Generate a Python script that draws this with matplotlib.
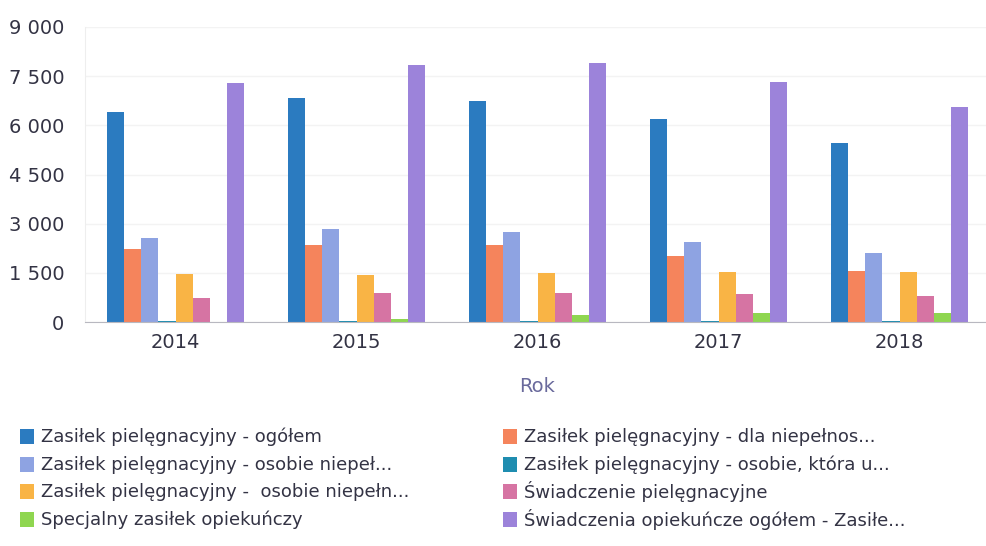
import numpy as np
import matplotlib
matplotlib.use("Agg")
import matplotlib.pyplot as plt
from matplotlib.patches import Rectangle
from matplotlib.ticker import FuncFormatter

# ==============================
# Dane
# ==============================
years = ["2014", "2015", "2016", "2017", "2018"]

series_names = [
    "Zasiłek pielęgnacyjny - ogółem",
    "Zasiłek pielęgnacyjny - dla niepełnos...",
    "Zasiłek pielęgnacyjny - osobie niepeł...",
    "Zasiłek pielęgnacyjny - osobie, która u...",
    "Zasiłek pielęgnacyjny -  osobie niepełn...",
    "Świadczenie pielęgnacyjne",
    "Specjalny zasiłek opiekuńczy",
    "Świadczenia opiekuńcze ogółem - Zasiłe...",
]

ogolem = [6400, 6820, 6730, 6180, 5450]
dla_niepelnos = [2230, 2350, 2350, 2020, 1560]
osobie_niepel = [2570, 2850, 2750, 2450, 2110]
osobie_ktora = [30, 30, 30, 30, 30]
osobie_niepeln = [1470, 1440, 1500, 1530, 1530]
swiadczenie_piel = [740, 880, 880, 860, 800]
specjalny = [0, 90, 210, 270, 270]
swiadczenia_ogolem = [7280, 7830, 7890, 7310, 6550]

values = [ogolem, dla_niepelnos, osobie_niepel, osobie_ktora,
          osobie_niepeln, swiadczenie_piel, specjalny, swiadczenia_ogolem]

colors = ["#2b7bc0", "#f5845c", "#8ea3e2", "#1f8db0",
          "#f9b445", "#d674a3", "#8fd650", "#9c83da"]

# ==============================
# Wykres
# ==============================
W, H = 986, 546
fig = plt.figure(figsize=(W / 100, H / 100), dpi=100)
ax = fig.add_axes([85 / W, 1 - 322 / H, 905 / W, 295 / H])

x = np.arange(len(years))
n = len(values)
bw = 0.095
for i, (vals, c) in enumerate(zip(values, colors)):
    ax.bar(x + (i - (n - 1) / 2) * bw, vals, width=bw, color=c, zorder=2)

ax.set_xlim(-0.5, 4.5)
ax.set_ylim(0, 9000)
ax.set_yticks(np.arange(0, 9001, 1500))
ax.yaxis.set_major_formatter(FuncFormatter(lambda v, p: f"{int(v):,}".replace(",", " ")))
ax.set_xticks(x)
ax.set_xticklabels(years)
ax.tick_params(axis="both", length=0, labelsize=14, colors="#333344")
ax.tick_params(axis="y", pad=15)
ax.tick_params(axis="x", pad=8)

ax.grid(axis="y", color="#f3f3f3", linewidth=1, zorder=0)
for s in ["top", "right"]:
    ax.spines[s].set_visible(False)
ax.spines["left"].set_color("#eeeeee")
ax.spines["bottom"].set_color("#b8b8c0")

ax.set_xlabel("Rok", fontsize=14, color="#6a6a9c", labelpad=18)

# legenda: dwie kolumny, kolejność wierszami
row_y = [437, 465, 492, 520]
col_x = [20, 503]
for k, (name, c) in enumerate(zip(series_names, colors)):
    cx = col_x[k % 2]
    cy = row_y[k // 2]
    fig.patches.append(Rectangle((cx / W, 1 - (cy + 7) / H), 14 / W, 15 / H,
                                 facecolor=c, transform=fig.transFigure))
    fig.text((cx + 21) / W, 1 - cy / H, name, fontsize=13, color="#333344",
             va="center", ha="left")

fig.savefig("out.png", dpi=100)
